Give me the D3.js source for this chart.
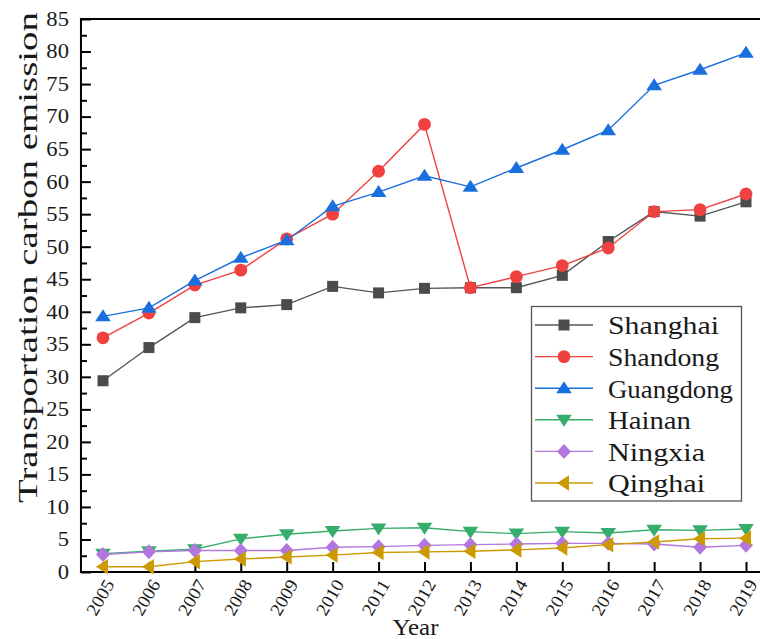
<!DOCTYPE html>
<html>
<head>
<meta charset="utf-8">
<script src="https://cdn.jsdelivr.net/npm/d3@7/dist/d3.min.js"></script>
<style>
  html, body { margin: 0; padding: 0; background: #fff; }
  svg { display: block; }
  text { font-family: "Liberation Serif", "Times New Roman", serif; fill: #1a1a1a; }
</style>
</head>
<body>
<svg id="chart" width="760" height="639"></svg>
<script>
// Transportation carbon emission by province, 2005–2019
const years = [2005, 2006, 2007, 2008, 2009, 2010, 2011, 2012, 2013, 2014, 2015, 2016, 2017, 2018, 2019];

const shanghai  = [29.4, 34.5, 39.1, 40.6, 41.1, 43.9, 42.9, 43.6, 43.7, 43.7, 45.6, 50.8, 55.4, 54.7, 56.9];
const shandong  = [36.0, 39.8, 44.1, 46.4, 51.2, 55.0, 61.6, 68.8, 43.7, 45.4, 47.1, 49.8, 55.4, 55.7, 58.1];
const guangdong = [39.3, 40.6, 44.8, 48.3, 51.0, 56.2, 58.4, 60.9, 59.2, 62.1, 64.9, 67.9, 74.8, 77.2, 79.8];
const hainan    = [2.8, 3.2, 3.5, 5.1, 5.8, 6.3, 6.7, 6.8, 6.2, 5.9, 6.2, 6.0, 6.5, 6.4, 6.6];
const ningxia   = [2.7, 3.1, 3.3, 3.3, 3.3, 3.8, 3.9, 4.1, 4.2, 4.3, 4.4, 4.4, 4.3, 3.8, 4.1];
const qinghai   = [0.8, 0.8, 1.6, 2.0, 2.3, 2.6, 3.0, 3.1, 3.2, 3.4, 3.7, 4.2, 4.6, 5.1, 5.2];

const seriesNames = ["Shanghai", "Shandong", "Guangdong", "Hainan", "Ningxia", "Qinghai"];
const yTickValues = d3.range(0, 86, 5);

// Marker shapes (path strings centred on the point)
const shapes = {
  square:   "M-5.5,-5.5H5.5V5.5H-5.5Z",
  circle:   d3.symbol(d3.symbolCircle, Math.PI * 6.4 * 6.4)(),
  up:       "M0,-7L7.8,5L-7.8,5Z",
  down:     "M0,7L7.8,-5L-7.8,-5Z",
  diamond:  "M0,-7.5L7,0L0,7.5L-7,0Z",
  left:     "M-7,0L5,-7.8L5,7.8Z"
};

const series = [
  { name: seriesNames[0], values: shanghai,  line: "#555555", fill: "#4b4b4b", shape: "square"  },
  { name: seriesNames[1], values: shandong,  line: "#F14040", fill: "#F14040", shape: "circle"  },
  { name: seriesNames[2], values: guangdong, line: "#1A6FDF", fill: "#1A6FDF", shape: "up"      },
  { name: seriesNames[3], values: hainan,    line: "#37AD6B", fill: "#37AD6B", shape: "down"    },
  { name: seriesNames[4], values: ningxia,   line: "#B177DE", fill: "#B177DE", shape: "diamond" },
  { name: seriesNames[5], values: qinghai,   line: "#CC9900", fill: "#CC9900", shape: "left"    }
];

const svg = d3.select("#chart");

const x = d3.scaleLinear().domain([2005, 2019]).range([103, 746]);
const y = d3.scaleLinear().domain([0, 85]).range([572, 19]);

const xLeft = x(2004.52), xRight = x(2019.48);
const yBottom = y(0), yTop = y(85);

// Y axis: major ticks every 5 pointing inward, minor ticks halfway between
const yAxis = svg.append("g")
  .attr("transform", `translate(${xLeft},0)`)
  .call(d3.axisLeft(y).tickValues(yTickValues).tickSizeInner(-10).tickSizeOuter(0).tickPadding(12))
  .call(g => g.select(".domain").remove());
yAxis.selectAll(".tick line").attr("stroke", "#000").attr("stroke-width", 2);
yAxis.selectAll(".tick text")
  .attr("font-size", 20)
  .attr("font-family", "Liberation Serif")
  .attr("fill", "#1a1a1a")
  .attr("textLength", d => String(d).length * 11.3)
  .attr("lengthAdjust", "spacingAndGlyphs");

svg.append("g")
  .attr("transform", `translate(${xLeft},0)`)
  .call(d3.axisLeft(y).tickValues(d3.range(2.5, 85, 5)).tickSizeInner(-6).tickSizeOuter(0).tickFormat(""))
  .call(g => g.select(".domain").remove())
  .selectAll(".tick line").attr("stroke", "#000").attr("stroke-width", 2);

// X axis: one tick per year, pointing inward; labels rotated
const xAxis = svg.append("g")
  .attr("transform", `translate(0,${yBottom})`)
  .call(d3.axisBottom(x).tickValues(years).tickSizeInner(-10).tickSizeOuter(0).tickFormat(""))
  .call(g => g.select(".domain").remove());
xAxis.selectAll(".tick line").attr("stroke", "#000").attr("stroke-width", 2);

svg.append("g").selectAll("text")
  .data(years)
  .join("text")
  .attr("transform", d => `translate(${x(d) + 12},${yBottom + 12}) rotate(-60)`)
  .attr("text-anchor", "end")
  .attr("font-size", 18)
  .attr("textLength", 38)
  .attr("lengthAdjust", "spacingAndGlyphs")
  .text(d => d);

// Frame lines
svg.append("line").attr("x1", xLeft).attr("x2", xLeft).attr("y1", yTop - 1).attr("y2", yBottom + 1)
  .attr("stroke", "#000").attr("stroke-width", 2);
svg.append("line").attr("x1", xLeft - 1).attr("x2", xRight).attr("y1", yBottom).attr("y2", yBottom)
  .attr("stroke", "#000").attr("stroke-width", 2);
svg.append("line").attr("x1", xLeft - 1).attr("x2", xRight).attr("y1", yTop).attr("y2", yTop)
  .attr("stroke", "#000").attr("stroke-width", 2);

// Axis titles
svg.append("text")
  .attr("transform", `translate(37,${(12 + 503) / 2}) rotate(-90)`)
  .attr("text-anchor", "middle")
  .attr("font-size", 28)
  .attr("textLength", 491)
  .attr("lengthAdjust", "spacingAndGlyphs")
  .text("Transportation carbon emission");

svg.append("text")
  .attr("x", 415.5)
  .attr("y", 635)
  .attr("text-anchor", "middle")
  .attr("font-size", 24)
  .attr("textLength", 46)
  .attr("lengthAdjust", "spacingAndGlyphs")
  .text("Year");

// Series: line then markers
const line = d3.line().x((d, i) => x(years[i])).y(d => y(d));
series.forEach(s => {
  const g = svg.append("g");
  g.append("path")
    .attr("d", line(s.values))
    .attr("fill", "none")
    .attr("stroke", s.line)
    .attr("stroke-width", 1.4);
  g.selectAll("path.mark")
    .data(s.values)
    .join("path")
    .attr("class", "mark")
    .attr("d", shapes[s.shape])
    .attr("transform", (d, i) => `translate(${x(years[i])},${y(d)})`)
    .attr("fill", s.fill);
});

// Legend
const legend = svg.append("g");
legend.append("rect")
  .attr("x", 531.5).attr("y", 306.5).attr("width", 210).attr("height", 194.5)
  .attr("fill", "#fff").attr("stroke", "#555").attr("stroke-width", 1.3);
const rowY = d3.scaleLinear().domain([0, 5]).range([325, 483]);
series.forEach((s, i) => {
  const cy = rowY(i);
  legend.append("line").attr("x1", 535).attr("x2", 593).attr("y1", cy).attr("y2", cy)
    .attr("stroke", s.line).attr("stroke-width", 1.4);
  legend.append("path").attr("d", shapes[s.shape]).attr("transform", `translate(564,${cy})`).attr("fill", s.fill);
  legend.append("text").attr("x", 608).attr("y", cy).attr("dy", "0.36em")
    .attr("font-size", 26)
    .attr("textLength", s.name.length * 14 - 1)
    .attr("lengthAdjust", "spacingAndGlyphs")
    .text(s.name);
});
</script>
</body>
</html>
